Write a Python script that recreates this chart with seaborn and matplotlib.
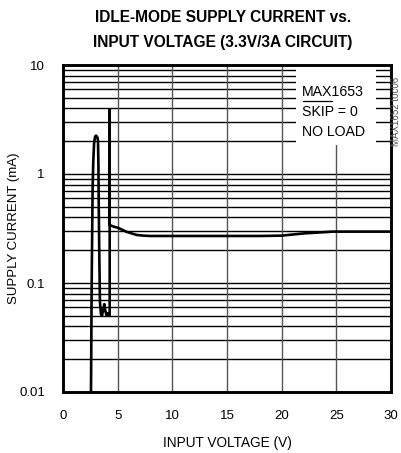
import matplotlib
matplotlib.use("Agg")
import matplotlib.pyplot as plt
import seaborn as sns
import pandas as pd
from matplotlib.patches import Rectangle

# ---- data ----
voltage = [2.56, 2.59, 2.62, 2.67, 2.71, 2.77, 2.84, 2.93, 3.02, 3.12, 3.20, 3.24,
           3.27, 3.32, 3.38, 3.47, 3.57, 3.68, 3.78, 3.88, 4.00, 4.12, 4.27, 4.27,
           4.27, 4.60, 5.06, 5.80, 6.74, 7.35, 8.0, 10.0, 12.0, 15.0, 18.0, 20.0,
           22.0, 24.7, 27.0, 30.0]
current = [0.010, 0.030, 0.090, 0.30, 0.75, 1.30, 1.90, 2.20, 2.25, 2.20, 2.05, 1.20,
           0.50, 0.18, 0.067, 0.052, 0.050, 0.058, 0.064, 0.055, 0.050, 0.053, 0.050, 3.87,
           0.34, 0.33, 0.32, 0.295, 0.276, 0.272, 0.270, 0.270, 0.270, 0.270, 0.270, 0.272,
           0.285, 0.296, 0.296, 0.296]
x_ticks = [0, 5, 10, 15, 20, 25, 30]
y_ticks = [0.01, 0.1, 1, 10]
y_tick_labels = ["0.01", "0.1", "1", "10"]
title_lines = ["IDLE-MODE SUPPLY CURRENT vs.", "INPUT VOLTAGE (3.3V/3A CIRCUIT)"]
legend_lines = ["MAX1653", "SKIP = 0", "NO LOAD"]

df = pd.DataFrame({"V": voltage, "I": current})

sns.set_theme(style="white")
plt.rcParams["font.family"] = ["Liberation Sans", "DejaVu Sans"]
plt.rcParams["text.color"] = "black"
plt.rcParams["axes.labelcolor"] = "black"

fig = plt.figure(figsize=(4.01, 4.53), dpi=100)
ax = fig.add_axes([63 / 401, (453 - 392) / 453, 328 / 401, 327 / 453])

ax.set_yscale("log")
ax.set_xlim(0, 30)
ax.set_ylim(0.01, 10)

# grid lines
minor_vals = [m * 10.0 ** e for e in (-2, -1, 0) for m in range(1, 10)] + [10.0]
for v in minor_vals:
    ax.axhline(v, color="black", lw=1.0, zorder=0.5)
for v in x_ticks[1:-1]:
    ax.axvline(v, color="#555555", lw=1.0, zorder=0.5)

sns.lineplot(data=df, x="V", y="I", sort=False, estimator=None, color="black",
             lw=1.9, ax=ax, zorder=3)

ax.set_xticks(x_ticks)
ax.set_xticklabels([str(t) for t in x_ticks])
ax.set_yticks(y_ticks)
ax.set_yticklabels(y_tick_labels)
ax.minorticks_off()
ax.yaxis.set_minor_locator(matplotlib.ticker.NullLocator())
ax.tick_params(axis="both", length=0, labelsize=9.5, colors="black")
ax.tick_params(axis="x", pad=13)
ax.tick_params(axis="y", pad=13)

ax.set_xlabel("INPUT VOLTAGE (V)", fontsize=9.8, color="black")
ax.set_ylabel("SUPPLY CURRENT (mA)", fontsize=9.5, color="black")
ax.xaxis.set_label_coords(0.5, -(436 - 392) / 327)
ax.yaxis.set_label_coords(-(63 - 20) / 328, 0.5)

for sp in ax.spines.values():
    sp.set_color("black")
    sp.set_linewidth(2.1)
    sp.set_zorder(5)

# legend box (white) with text
ax.add_patch(Rectangle((0.710, 0.755), 0.244, 0.26, transform=ax.transAxes,
                       facecolor="white", edgecolor="none", zorder=2))
for txt, yy in zip(legend_lines, [0.918, 0.857, 0.796]):
    ax.text(0.729, yy, txt, transform=ax.transAxes, fontsize=10.2,
            ha="left", va="center", zorder=4, color="black")
ax.plot([0.731, 0.820], [0.889, 0.889], transform=ax.transAxes, color="black",
        lw=0.9, zorder=4)

# title
fig.text(0.556, 1 - 18 / 453, title_lines[0], ha="center", va="center",
         fontsize=11.2, fontweight="bold", color="black")
fig.text(0.556, 1 - 42 / 453, title_lines[1], ha="center", va="center",
         fontsize=11.2, fontweight="bold", color="black")

fig.text(396 / 401, 1 - 111 / 453, "MAX1652 toc06", rotation=90, ha="center",
         va="center", fontsize=7, color="#555555")

fig.savefig("out.png", dpi=100)
